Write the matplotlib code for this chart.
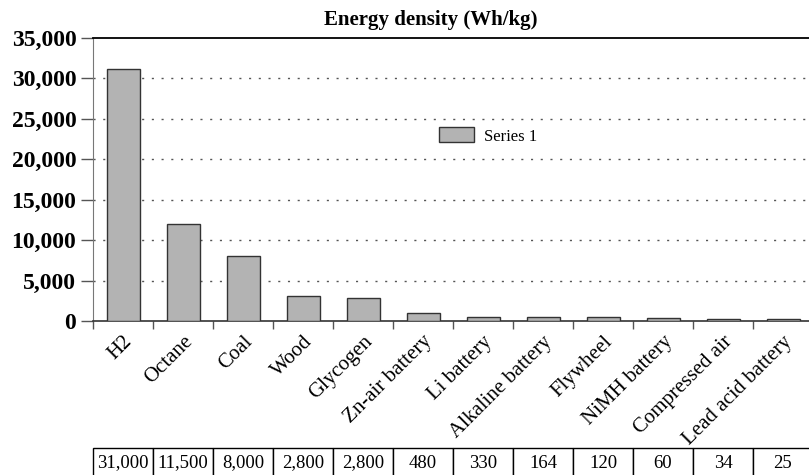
import matplotlib.pyplot as plt
from matplotlib.ticker import FuncFormatter

plt.rcParams['font.family'] = ['Liberation Serif', 'DejaVu Serif']

categories = ['H2', 'Octane', 'Coal', 'Wood', 'Glycogen', 'Zn-air battery',
              'Li battery', 'Alkaline battery', 'Flywheel', 'NiMH battery',
              'Compressed air', 'Lead acid battery']
# bar heights as drawn
bar_values = [31200, 11950, 8100, 3150, 2900, 950, 550, 550, 550, 350, 250, 250]
# values printed in the data table
table_labels = ['31,000', '11,500', '8,000', '2,800', '2,800', '480',
                '330', '164', '120', '60', '34', '25']
yticks = [0, 5000, 10000, 15000, 20000, 25000, 30000, 35000]

fig = plt.figure(figsize=(8.09, 4.75), dpi=100)
W, H = 809, 475
ax = fig.add_axes([93 / W, 1 - 321 / H, 720 / W, 283 / H])

x = list(range(len(categories)))
ax.bar(x, bar_values, width=0.55, color='#b3b3b3', edgecolor='#333333',
       linewidth=1.0, label='Series 1', zorder=3)

ax.set_xlim(-0.5, len(categories) - 0.5)
ax.set_ylim(0, 35000)
ax.set_yticks(yticks)
ax.yaxis.set_major_formatter(FuncFormatter(lambda v, p: f'{int(v):,}'))
for t in ax.get_yticklabels():
    t.set_fontsize(17)
    t.set_fontweight('bold')
ax.tick_params(axis='y', length=9, width=1, color='#555555', pad=3)

# category labels at centers, tick marks at boundaries
ax.set_xticks(x)
ax.set_xticklabels(categories, rotation=45, ha='right', rotation_mode='anchor',
                   fontsize=15)
ax.tick_params(axis='x', length=0, pad=8)
ax.set_xticks([i - 0.5 for i in range(len(categories) + 1)], minor=True)
ax.tick_params(axis='x', which='minor', length=6, width=1, color='#555555')

for v in yticks[1:-1]:
    ax.axhline(v, color='#555555', linestyle=(0, (1.5, 5.5)), linewidth=1.0, zorder=1)

ax.spines['right'].set_visible(False)
ax.spines['top'].set_color('black')
ax.spines['top'].set_linewidth(1.3)
ax.spines['left'].set_color('#777777')
ax.spines['bottom'].set_color('#333333')
ax.spines['bottom'].set_linewidth(1.2)

fig.text(431 / W, 1 - 20 / H, 'Energy density (Wh/kg)', fontsize=15,
         fontweight='bold', ha='center', va='center')

ax.legend(loc='center left', bbox_to_anchor=(424 / W, 1 - 136 / H),
          bbox_transform=fig.transFigure, frameon=False, fontsize=12,
          handlelength=2.1, handleheight=1.0, handletextpad=0.6)

tbl = ax.table(cellText=[table_labels], cellLoc='center',
               bbox=[0, -0.555, 1, 0.106])
tbl.auto_set_font_size(False)
tbl.set_fontsize(13.5)
for cell in tbl.get_celld().values():
    cell.set_edgecolor('black')
    cell.set_linewidth(1.0)

fig.savefig('out.png', dpi=100)
